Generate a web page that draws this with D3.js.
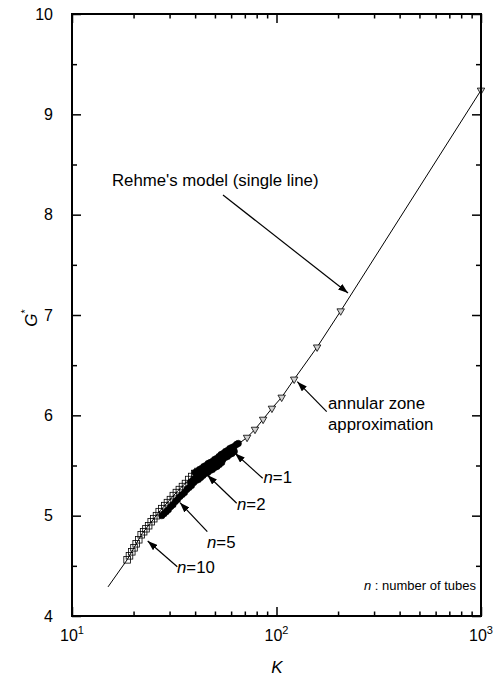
<!DOCTYPE html>
<html>
<head>
<meta charset="utf-8">
<script src="https://cdn.jsdelivr.net/npm/d3@7"></script>
<style>
  html, body { margin: 0; padding: 0; background: #fff; }
  svg { display: block; font-family: "Liberation Sans", Arial, sans-serif; }
</style>
</head>
<body>
<svg id="chart" width="493" height="681"></svg>
<script>
// ---- Data ----
// Rehme's model (single line)
const rehmeK = [15, 18.6, 22, 27, 33, 40, 50, 60, 71.8, 78.5, 86, 95, 106, 122, 158, 206, 1000];
const rehmeG = [4.29, 4.56, 4.82, 5.05, 5.25, 5.42, 5.55, 5.66, 5.78, 5.86, 5.96, 6.07, 6.18, 6.36, 6.68, 7.04, 9.24];
// annular zone approximation (triangles)
const annK = [71.8, 78.5, 86, 95, 106, 122, 158, 206, 1000];
const annG = [5.78, 5.86, 5.96, 6.07, 6.18, 6.36, 6.68, 7.04, 9.24];
// n = 10 (open squares)
const n10K = [18.6, 19.1, 19.6, 20.1, 20.6, 21.2, 21.8, 22.4, 23.0, 23.7, 24.4, 25.1, 25.9, 26.7, 27.5, 28.4, 29.3, 30.3, 31.3, 32.4, 33.5, 34.7, 35.9, 37.2, 38.5, 39.9, 41.3];
const n10G = [4.56, 4.60, 4.64, 4.68, 4.72, 4.76, 4.81, 4.84, 4.87, 4.90, 4.94, 4.97, 5.00, 5.04, 5.07, 5.10, 5.13, 5.16, 5.20, 5.23, 5.26, 5.29, 5.32, 5.36, 5.39, 5.42, 5.44];
// n = 5
const n5K = [27.5, 28.2, 28.9, 29.6, 30.4, 31.2, 32.0, 32.8, 33.7, 34.6, 35.5, 36.4, 37.4, 38.4, 39.4, 40.4, 41.5, 42.6, 43.7, 44.9, 46.1, 47.3, 48.6, 49.9, 51.2, 52.6, 54.0];
const n5G = [5.00, 5.02, 5.04, 5.06, 5.09, 5.11, 5.14, 5.16, 5.19, 5.21, 5.23, 5.26, 5.28, 5.30, 5.33, 5.35, 5.36, 5.38, 5.40, 5.42, 5.43, 5.45, 5.46, 5.48, 5.49, 5.51, 5.53];
// n = 2
const n2K = [38, 39, 40, 41.1, 42.2, 43.3, 44.4, 45.6, 46.8, 48.0, 49.3, 50.6, 51.9, 53.3, 54.7, 56.1, 57.6, 59.1, 60.6, 62.2];
const n2G = [5.33, 5.35, 5.37, 5.39, 5.40, 5.42, 5.43, 5.45, 5.46, 5.48, 5.49, 5.51, 5.52, 5.54, 5.56, 5.58, 5.59, 5.61, 5.62, 5.64];
// n = 1
const n1K = [40, 41, 42, 43, 44.1, 45.2, 46.3, 47.4, 48.6, 49.8, 51, 52.3, 53.6, 54.9, 56.3, 57.7, 59.1, 60.6, 62.1, 63.7, 65];
const n1G = [5.43, 5.44, 5.46, 5.47, 5.49, 5.50, 5.52, 5.53, 5.54, 5.56, 5.57, 5.59, 5.61, 5.62, 5.64, 5.65, 5.67, 5.68, 5.69, 5.71, 5.72];

// Axis ticks
const xMajor = [10, 100, 1000];
const xMajorExp = ["1", "2", "3"];
const xMinor = [20, 30, 40, 50, 60, 70, 80, 90, 200, 300, 400, 500, 600, 700, 800, 900];
const yMajor = [4, 5, 6, 7, 8, 9, 10];
const yMinor = [4.5, 5.5, 6.5, 7.5, 8.5, 9.5];

// ---- Layout ----
const L = 72, R = 481, T = 14, B = 616;
const svg = d3.select("#chart");
const x = d3.scaleLog().domain([10, 1000]).range([L, R]);
const y = d3.scaleLinear().domain([4, 10]).range([B, T]);

const zip = (a, b) => a.map((v, i) => [v, b[i]]);

// ---- Marks ----
const line = d3.line().x(d => x(d[0])).y(d => y(d[1]));
svg.append("path").datum(zip(rehmeK, rehmeG))
  .attr("d", line).attr("fill", "none").attr("stroke", "#000").attr("stroke-width", 1);

// n=5, n=2, n=1 dense black markers
[[n5K, n5G], [n2K, n2G], [n1K, n1G]].forEach(([k, g]) => {
  svg.append("g").selectAll("circle").data(zip(k, g)).join("circle")
    .attr("cx", d => x(d[0])).attr("cy", d => y(d[1])).attr("r", 3.2)
    .attr("fill", "#000").attr("stroke", "#000").attr("stroke-width", 0.6);
});

// n=10 squares
svg.append("g").selectAll("rect").data(zip(n10K, n10G)).join("rect")
  .attr("x", d => x(d[0]) - 3.3).attr("y", d => y(d[1]) - 3.3)
  .attr("width", 6.6).attr("height", 6.6)
  .attr("fill", "none").attr("stroke", "#000").attr("stroke-width", 0.8);

// triangles (annular zone approximation)
const tri = d3.symbol().type(d3.symbolTriangle).size(24);
svg.append("g").selectAll("path").data(zip(annK, annG)).join("path")
  .attr("d", tri)
  .attr("transform", d => `translate(${x(d[0])},${y(d[1])}) rotate(180)`)
  .attr("fill", "#d0d0d0").attr("stroke", "#000").attr("stroke-width", 0.8);

// ---- Axes ----
function styleAxis(g) {
  g.select(".domain").remove();
  g.selectAll(".tick line").attr("stroke", "#000").attr("stroke-width", 1.5);
}
// bottom
svg.append("g").attr("transform", `translate(0,${B})`)
  .call(d3.axisBottom(x).tickValues(xMajor).tickSize(-9).tickFormat(""))
  .call(styleAxis);
svg.append("g").attr("transform", `translate(0,${B})`)
  .call(d3.axisBottom(x).tickValues(xMinor).tickSize(-4.5).tickFormat(""))
  .call(styleAxis);
// top
svg.append("g").attr("transform", `translate(0,${T})`)
  .call(d3.axisTop(x).tickValues(xMajor).tickSize(-9).tickFormat(""))
  .call(styleAxis);
svg.append("g").attr("transform", `translate(0,${T})`)
  .call(d3.axisTop(x).tickValues(xMinor).tickSize(-4.5).tickFormat(""))
  .call(styleAxis);
// left
svg.append("g").attr("transform", `translate(${L},0)`)
  .call(d3.axisLeft(y).tickValues(yMajor).tickSize(-9).tickPadding(19).tickFormat(d3.format("d")))
  .call(styleAxis)
  .call(g => g.selectAll(".tick text").attr("font-size", 16).attr("fill", "#000")
      .attr("font-family", "Liberation Sans, Arial, sans-serif"));
svg.append("g").attr("transform", `translate(${L},0)`)
  .call(d3.axisLeft(y).tickValues(yMinor).tickSize(-5).tickFormat(""))
  .call(styleAxis);
// right
svg.append("g").attr("transform", `translate(${R},0)`)
  .call(d3.axisRight(y).tickValues(yMajor).tickSize(-9).tickFormat(""))
  .call(styleAxis);
svg.append("g").attr("transform", `translate(${R},0)`)
  .call(d3.axisRight(y).tickValues(yMinor).tickSize(-5).tickFormat(""))
  .call(styleAxis);

// x tick labels with superscripts
const xl = svg.append("g").selectAll("text").data(xMajor).join("text")
  .attr("x", d => x(d)).attr("y", 641).attr("text-anchor", "middle")
  .attr("font-size", 16).attr("fill", "#000");
xl.append("tspan").text("10");
xl.append("tspan").attr("dy", -7).attr("font-size", 11).text((d, i) => xMajorExp[i]);

// frame
svg.append("rect").attr("x", L).attr("y", T).attr("width", R - L).attr("height", B - T)
  .attr("fill", "none").attr("stroke", "#000").attr("stroke-width", 2);

// axis titles
svg.append("text").attr("x", (L + R) / 2 + 0.5).attr("y", 673).attr("text-anchor", "middle")
  .attr("font-size", 17).attr("font-style", "italic").text("K");
const gt = svg.append("text").attr("transform", "translate(37,318) rotate(-90)")
  .attr("text-anchor", "middle").attr("font-size", 17);
gt.append("tspan").attr("font-style", "italic").text("G");
gt.append("tspan").attr("dy", -8).attr("font-size", 11).text("*");

// ---- Annotations ----
const defs = svg.append("defs");
defs.append("marker").attr("id", "ah").attr("markerUnits", "userSpaceOnUse")
  .attr("markerWidth", 11).attr("markerHeight", 7).attr("refX", 10).attr("refY", 3.5)
  .attr("orient", "auto")
  .append("path").attr("d", "M0,0 L10,3.5 L0,7 Z").attr("fill", "#000");

const arrows = [
  [223, 195, 348, 293],
  [326.7, 411.7, 297.3, 381.7],
  [262.7, 478.3, 235, 453.3],
  [236.7, 503.3, 207.3, 475],
  [207.3, 531.7, 180, 502.7],
  [177.3, 566.7, 147.7, 541]
];
svg.append("g").selectAll("line").data(arrows).join("line")
  .attr("x1", d => d[0]).attr("y1", d => d[1]).attr("x2", d => d[2]).attr("y2", d => d[3])
  .attr("stroke", "#000").attr("stroke-width", 1.2).attr("marker-end", "url(#ah)");

const fs = 16.8;
svg.append("text").attr("x", 112).attr("y", 186).attr("font-size", fs).text("Rehme's model (single line)");
svg.append("text").attr("x", 328).attr("y", 409).attr("font-size", fs).text("annular zone");
svg.append("text").attr("x", 328).attr("y", 430).attr("font-size", fs).text("approximation");

const nLabels = [["1", 263.5, 483], ["2", 237, 510], ["5", 207, 548], ["10", 177, 573]];
nLabels.forEach(([v, px, py]) => {
  const t = svg.append("text").attr("x", px).attr("y", py).attr("font-size", fs);
  t.append("tspan").attr("font-style", "italic").text("n");
  t.append("tspan").text("=" + v);
});

const leg = svg.append("text").attr("x", 476).attr("y", 590).attr("text-anchor", "end").attr("font-size", 13);
leg.append("tspan").attr("font-style", "italic").text("n");
leg.append("tspan").text(" : number of tubes");
</script>
</body>
</html>
